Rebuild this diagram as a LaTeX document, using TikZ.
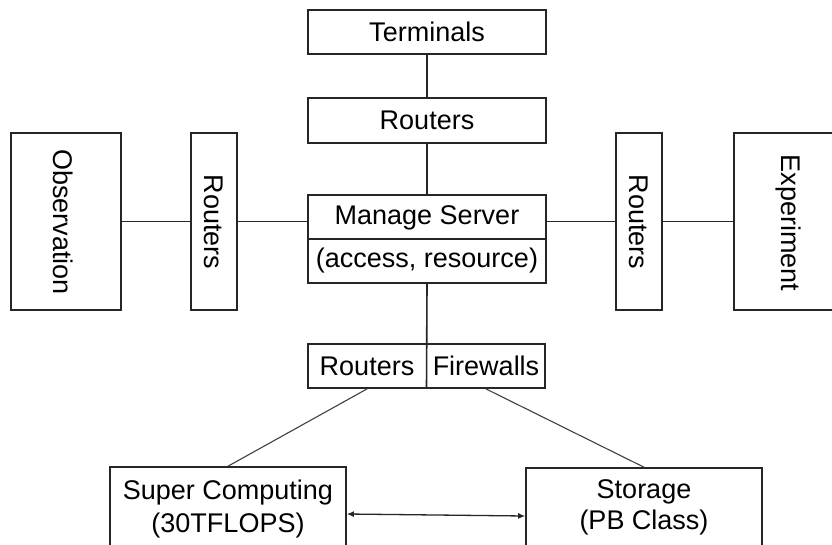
\documentclass[tikz,border=0pt]{standalone}
\usepackage{fontspec}
\setmainfont{Liberation Sans}
\usetikzlibrary{arrows.meta,calc}
\begin{document}
\begin{tikzpicture}[x=1pt,y=-1pt,
  box/.style={draw=black!85, line width=1.6pt, inner sep=0pt, font=\fontsize{27}{32}\selectfont, align=center},
  conn/.style={draw=black!85, line width=1.6pt},
  diag/.style={draw=black!75, line width=1.1pt}]
\clip (0,0) rectangle (832,544);
\fill[white] (0,0) rectangle (832,544);
% top column
\node[box, minimum width=238pt, minimum height=44pt] (term) at (427,32) {Terminals};
\node[box, minimum width=238pt, minimum height=45pt] (rtop) at (427,120.5) {Routers};
\node[box, minimum width=238pt, minimum height=88pt] (ms) at (427,239) {};
\node[font=\fontsize{27}{32}\selectfont] (mst) at (427,217.5) {Manage Server};
\node[font=\fontsize{27}{32}\selectfont] (msb) at (427,261) {(access, resource)};
\draw[conn] (ms.west) -- (ms.east);
% side boxes
\node[box, minimum width=110pt, minimum height=177pt] (obs) at (66,221.5) {};
\node[font=\fontsize{27}{32}\selectfont, rotate=-90] (obst) at (63,222) {Observation};
\node[box, minimum width=46pt, minimum height=177pt] (rl) at (214,221.5) {};
\node[font=\fontsize{27}{32}\selectfont, rotate=-90] (rlt) at (214,222) {Routers};
\node[box, minimum width=46pt, minimum height=177pt] (rr) at (639,221.5) {};
\node[font=\fontsize{27}{32}\selectfont, rotate=-90] (rrt) at (639,222) {Routers};
\node[box, minimum width=108pt, minimum height=177pt] (exp) at (788,221.5) {};
\node[font=\fontsize{27}{32}\selectfont, rotate=-90] (expt) at (788,223) {Experiment};
% routers / firewalls
\node[box, minimum width=237pt, minimum height=44pt] (rf) at (426.5,366) {};
\node[font=\fontsize{27}{32}\selectfont] (rft) at (367,366) {Routers};
\node[font=\fontsize{27}{32}\selectfont] (fwt) at (486,366) {Firewalls};
% bottom boxes
\node[box, minimum width=236pt, minimum height=88pt] (sc) at (228,511) {};
\node[box, minimum width=236pt, minimum height=88pt] (st) at (644,512) {};
\node[font=\fontsize{27}{33}\selectfont, align=center] (sct) at (228,509) {Super Computing\\(30TFLOPS)};
\node[font=\fontsize{27}{31}\selectfont, align=center] (stt) at (644,507) {Storage\\(PB Class)};
% connectors
\draw[conn] (term.south) -- (rtop.north);
\draw[conn] (rtop.south) -- (ms.north);
\draw[conn] (ms.south) -- (rf.south);
\draw[conn, line width=1.3pt] (obs.east) -- (rl.west);
\draw[conn, line width=1.3pt] (rl.east) -- (rl.east -| ms.west);
\draw[conn, line width=1.3pt] (rr.west -| ms.east) -- (rr.west);
\draw[conn, line width=1.3pt] (rr.east) -- (exp.west);
\coordinate (d1) at ([xshift=60pt]rf.south west);
\coordinate (d2) at ([xshift=-60pt]rf.south east);
\draw[diag] (d1) -- (sc.north);
\draw[diag] (d2) -- (st.north);
\draw[conn, line width=1.3pt, {Latex[length=7pt,width=6pt]}-{Latex[length=7pt,width=6pt]}] ([yshift=-3pt]sc.east) -- ([yshift=-4pt]st.west);
\end{tikzpicture}
\end{document}
